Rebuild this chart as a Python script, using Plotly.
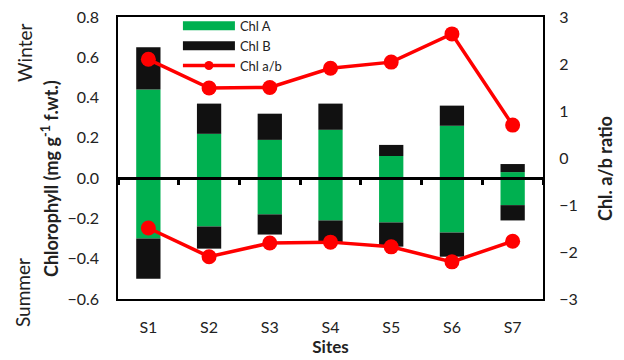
import plotly.graph_objects as go

sites = ["S1", "S2", "S3", "S4", "S5", "S6", "S7"]
winter_chl_a = [0.44, 0.22, 0.19, 0.24, 0.11, 0.26, 0.03]
winter_chl_b = [0.21, 0.15, 0.13, 0.13, 0.055, 0.10, 0.04]
summer_chl_a = [-0.30, -0.24, -0.18, -0.21, -0.22, -0.27, -0.134]
summer_chl_b = [-0.20, -0.11, -0.10, -0.11, -0.12, -0.12, -0.076]
winter_ratio = [2.10, 1.49, 1.50, 1.91, 2.04, 2.64, 0.70]
summer_ratio = [-1.49, -2.10, -1.81, -1.79, -1.89, -2.21, -1.77]

GREEN = "#00B050"
BLACK = "#111111"
RED = "#FF0000"
FONT = "Lato"
CLEAR = "rgba(0,0,0,0)"

xs = list(range(len(sites)))
fig = go.Figure()

for vals, col in [(winter_chl_a, GREEN), (winter_chl_b, BLACK),
                  (summer_chl_a, GREEN), (summer_chl_b, BLACK)]:
    fig.add_trace(go.Bar(x=xs, y=vals, marker=dict(color=col, line=dict(width=0)),
                         width=0.4, showlegend=False))

for vals in [winter_ratio, summer_ratio]:
    fig.add_trace(go.Scatter(x=xs, y=vals, yaxis="y2", mode="lines+markers",
                             line=dict(color=RED, width=3.5),
                             marker=dict(color=RED, size=15), showlegend=False))

# trace that anchors the zero-line axis
fig.add_trace(go.Scatter(x=[None], y=[None], xaxis="x2", showlegend=False,
                         hoverinfo="skip"))

# legend entries
fig.add_trace(go.Scatter(x=[None], y=[None], mode="lines", name="Chl A",
                         line=dict(color=GREEN, width=9)))
fig.add_trace(go.Scatter(x=[None], y=[None], mode="lines", name="Chl B",
                         line=dict(color=BLACK, width=9)))
fig.add_trace(go.Scatter(x=[None], y=[None], mode="lines+markers", name="Chl a/b",
                         line=dict(color=RED, width=3.5), marker=dict(color=RED, size=9)))

fig.update_layout(
    width=624, height=360,
    margin=dict(l=118, r=81, t=17, b=61, autoexpand=False),
    plot_bgcolor="white", paper_bgcolor="white",
    barmode="relative",
    font=dict(family=FONT, size=16, color="#222222"),
    xaxis=dict(range=[-0.5, 6.5], tickvals=xs, ticktext=sites, showgrid=False,
               zeroline=False, showline=True, linecolor="black", linewidth=1.5,
               mirror=True, ticks="outside", ticklen=13, tickcolor=CLEAR,
               automargin=False,
               title=dict(text="<b>Sites</b>", standoff=4, font=dict(size=17))),
    xaxis2=dict(range=[-0.5, 6.5], overlaying="x", anchor="free", position=0.6 / 1.4,
                side="bottom", showline=True, linecolor="black", linewidth=3,
                tickvals=[i - 0.5 for i in range(len(sites) + 1)], ticks="outside",
                ticklen=5, tickwidth=2.5, tickcolor="black", showticklabels=False,
                showgrid=False, zeroline=False, automargin=False),
    yaxis=dict(range=[-0.6, 0.8], dtick=0.2, tickformat=".1f", showgrid=False,
               zeroline=True, zerolinecolor="black", zerolinewidth=3,
               showline=True, linecolor="black", linewidth=1.5,
               mirror=True, ticks="outside", ticklen=14, tickcolor=CLEAR,
               automargin=False),
    yaxis2=dict(range=[-3, 3], dtick=1, overlaying="y", side="right", showgrid=False,
                zeroline=False, showline=False, ticks="outside", ticklen=12,
                tickcolor=CLEAR, automargin=False),
    legend=dict(x=0.141, y=1.022, xanchor="left", yanchor="top", bgcolor=CLEAR,
                itemwidth=52, tracegroupgap=0, font=dict(size=13)),
    showlegend=True,
)

pw, ph = 624 - 118 - 81, 360 - 17 - 61
side_texts = [
    ("Winter", 25, 53, 19),
    ("Summer", 22, 293, 19),
    ("<b>Chlorophyll (mg g<sup>-1</sup> f.wt.)</b>", 50, 179, 18),
    ("<b>Chl. a/b ratio</b>", 605, 169, 18),
]
for txt, px, py, fs in side_texts:
    fig.add_annotation(text=txt, x=(px - 118) / pw, y=1 - (py - 17) / ph,
                       xref="paper", yref="paper", xanchor="center", yanchor="middle",
                       showarrow=False, textangle=-90, font=dict(size=fs))

fig.write_html("out.html", config={"displayModeBar": False},
               post_script="document.body.style.margin='0';")
